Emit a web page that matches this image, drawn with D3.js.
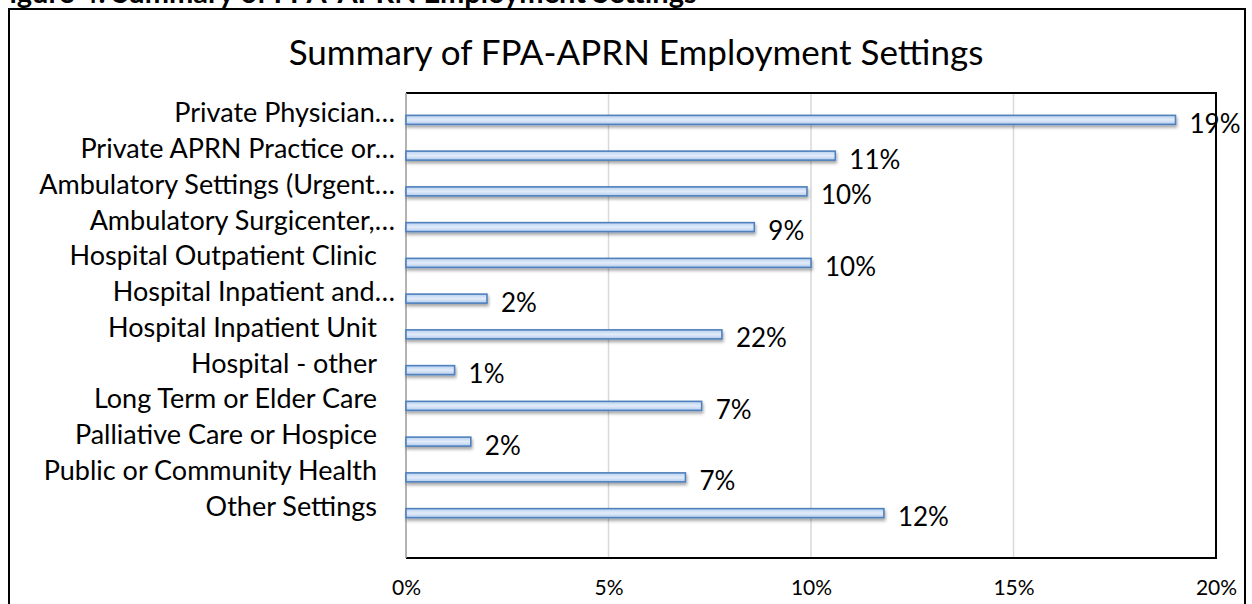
<!DOCTYPE html>
<html>
<head>
<meta charset="utf-8">
<script src="https://cdn.jsdelivr.net/npm/d3@7"></script>
<style>
  html, body { margin: 0; padding: 0; background: #fff; overflow: hidden; }
  text { font-family: Lato, "Open Sans", sans-serif; fill: #000; }
</style>
</head>
<body>
<svg id="chart"></svg>
<script>
const width = 1252;
const height = 604;

const caption = 'Figure 4: Summary of FPA-APRN Employment Settings';
const title = 'Summary of FPA-APRN Employment Settings';

const categories = [
    'Private Physician…',
    'Private APRN Practice or…',
    'Ambulatory Settings (Urgent…',
    'Ambulatory Surgicenter,…',
    'Hospital Outpatient Clinic',
    'Hospital Inpatient and…',
    'Hospital Inpatient Unit',
    'Hospital - other',
    'Long Term or Elder Care',
    'Palliative Care or Hospice',
    'Public or Community Health',
    'Other Settings'
];
const values = [0.190, 0.106, 0.099, 0.086, 0.100, 0.020, 0.078, 0.012, 0.073, 0.016, 0.069, 0.118];
// the labels printed beside the bars (as in the source, not always equal to the bar)
const valueLabels = ['19%', '11%', '10%', '9%', '10%', '2%', '22%', '1%', '7%', '2%', '7%', '12%'];
const xTicks = [0, 0.05, 0.10, 0.15, 0.20];

const plot = {left: 406, right: 1216, top: 93, bottom: 558};

const svg = d3.select('#chart')
    .attr('width', width)
    .attr('height', height);

const defs = svg.append('defs');
const grad = defs.append('linearGradient')
    .attr('id', 'barFill')
    .attr('x1', 0).attr('y1', 0).attr('x2', 0).attr('y2', 1);
grad.append('stop').attr('offset', '0%').attr('stop-color', '#b9d0ef');
grad.append('stop').attr('offset', '50%').attr('stop-color', '#e2ecfa');
grad.append('stop').attr('offset', '100%').attr('stop-color', '#b3cbed');

const shadow = defs.append('filter')
    .attr('id', 'shadow')
    .attr('x', '-5%').attr('y', '-60%').attr('width', '110%').attr('height', '260%');
shadow.append('feDropShadow')
    .attr('dx', 1).attr('dy', 2.5)
    .attr('stdDeviation', 1.6)
    .attr('flood-color', '#000')
    .attr('flood-opacity', 0.35);

// figure caption, cut off by the top of the page
svg.append('text')
    .attr('x', -7)
    .attr('y', 3)
    .style('font-size', '29px')
    .style('font-weight', 'bold')
    .text(caption);

// outer frame
svg.append('rect')
    .attr('x', 9)
    .attr('y', 9)
    .attr('width', 1236)
    .attr('height', 620)
    .attr('fill', 'none')
    .attr('stroke', '#000')
    .attr('stroke-width', 2);

svg.append('text')
    .attr('x', 636)
    .attr('y', 65)
    .attr('text-anchor', 'middle')
    .style('font-size', '35px')
    .text(title);

const x = d3.scaleLinear().domain([0, 0.20]).range([plot.left, plot.right]);
const y = d3.scaleBand().domain(categories).range([102, 531]);

// gridlines
svg.append('g')
    .selectAll('line')
    .data(xTicks.slice(1, -1))
    .enter().append('line')
    .attr('x1', d => x(d)).attr('x2', d => x(d))
    .attr('y1', plot.top).attr('y2', plot.bottom)
    .attr('stroke', '#d9d9d9')
    .attr('stroke-width', 1.5);

// plot area border: black top/right/bottom, grey category axis
svg.append('path')
    .attr('d', `M${plot.left},${plot.top}H${plot.right}V${plot.bottom}H${plot.left}`)
    .attr('fill', 'none')
    .attr('stroke', '#000')
    .attr('stroke-width', 2);
svg.append('line')
    .attr('x1', plot.left).attr('x2', plot.left)
    .attr('y1', plot.top).attr('y2', plot.bottom)
    .attr('stroke', '#9a9a9a')
    .attr('stroke-width', 1.5);

// bars
const barHeight = 9;
svg.append('g')
    .selectAll('rect')
    .data(values)
    .enter().append('rect')
    .attr('x', x(0))
    .attr('y', (d, i) => y(categories[i]) + y.bandwidth() / 2 - barHeight / 2)
    .attr('width', d => x(d) - x(0))
    .attr('height', barHeight)
    .attr('fill', 'url(#barFill)')
    .attr('stroke', '#4f81bd')
    .attr('stroke-width', 1.6)
    .attr('filter', 'url(#shadow)');

// value labels
svg.append('g')
    .selectAll('text')
    .data(values)
    .enter().append('text')
    .attr('x', d => x(d) + 14)
    .attr('y', (d, i) => y(categories[i]) + y.bandwidth() / 2 + 3)
    .attr('dominant-baseline', 'central')
    .style('font-size', '26px')
    .text((d, i) => valueLabels[i]);

// category labels
svg.append('g')
    .selectAll('text')
    .data(categories)
    .enter().append('text')
    .attr('x', d => d.endsWith('…') ? 395 : 377)
    .attr('y', d => y(d) + y.bandwidth() / 2 - 8)
    .attr('text-anchor', 'end')
    .attr('dominant-baseline', 'central')
    .style('font-size', '27px')
    .text(d => d);

// value axis labels
const xAxis = svg.append('g')
    .attr('transform', `translate(0, ${plot.bottom})`)
    .call(d3.axisBottom(x).tickValues(xTicks).tickFormat(d3.format('.0%')).tickSize(0).tickPadding(22));
xAxis.select('.domain').remove();
xAxis.selectAll('text')
    .attr('fill', '#000')
    .style('font-family', 'Lato, sans-serif')
    .style('font-size', '21px');
</script>
</body>
</html>
